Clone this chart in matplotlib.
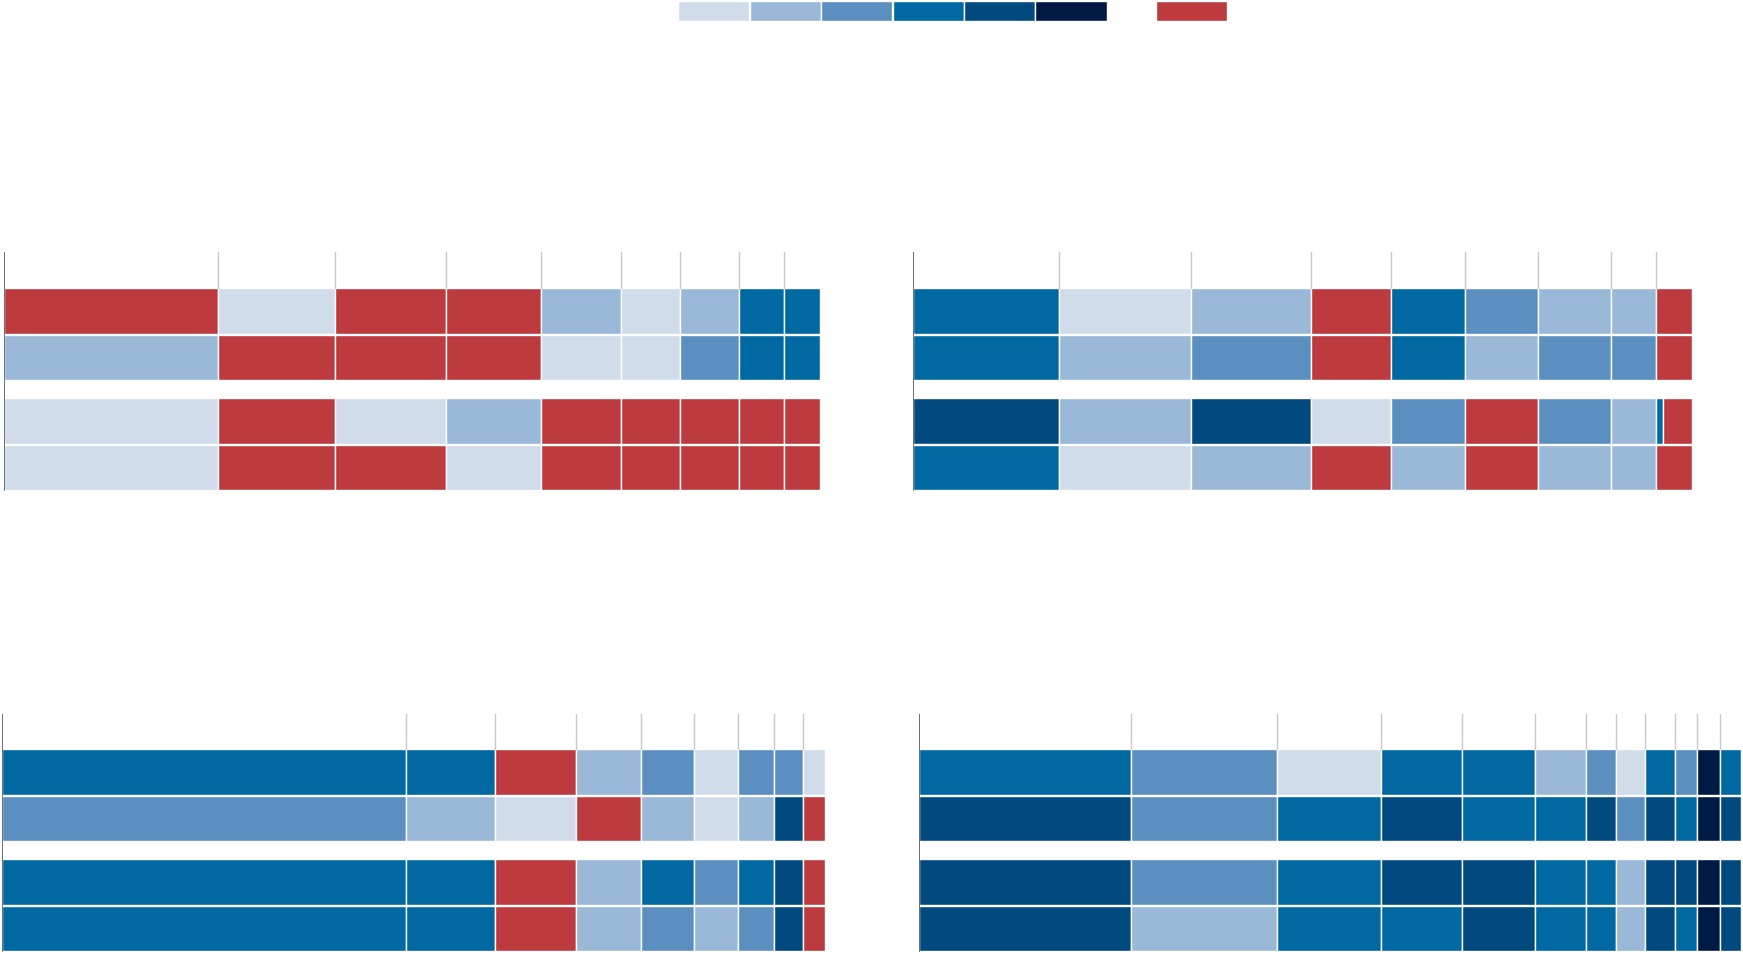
import matplotlib
matplotlib.use("Agg")
import matplotlib.pyplot as plt
import numpy as np

PAL = {0: '#bd3a3f', 1: '#d0dcea', 2: '#9ab8d7', 3: '#5a8fbf', 4: '#0069a1', 5: '#004a80', 6: '#001a44'}

# Panel data: column widths and color codes per row (0 = red, 1..6 = blue shades)
p1_widths = [192, 105, 100, 86, 72, 53, 53, 40, 33]
p1_rows = [[0,1,0,0,2,1,2,4,4],[2,0,0,0,1,1,3,4,4],[1,0,1,2,0,0,0,0,0],[1,0,0,1,0,0,0,0,0]]
p2_widths = [132, 118, 108, 72, 67, 66, 65, 41, 32]
p2_rows = [[4,1,2,0,4,3,2,2,0],[4,2,3,0,4,2,3,3,0],[5,2,5,1,3,0,3,2,(4,0)],[4,1,2,0,2,0,2,2,0]]
p3_widths = [363, 80, 73, 59, 47, 40, 32, 26, 20]
p3_rows = [[4,4,0,2,3,1,3,3,1],[3,2,1,0,2,1,2,5,0],[4,4,0,2,4,3,4,5,0],[4,4,0,2,3,2,3,5,0]]
p4_widths = [190, 132, 93, 73, 66, 46, 27, 26, 27, 20, 20, 19]
p4_rows = [[4,3,1,4,4,2,3,1,4,3,6,4],[5,3,4,5,4,4,5,3,5,4,6,5],[5,3,4,5,5,4,4,2,5,5,6,5],[5,2,4,4,5,4,4,2,5,4,6,5]]

# layout reference frame (coordinates measured on a 1568x880 view)
W, H = 1568, 880
fig = plt.figure(figsize=(17.43, 9.78), dpi=100)

def panel(x0, ytop, widths, rows):
    total = sum(widths)
    ybot = ytop + 215
    ax = fig.add_axes([x0/W, 1-ybot/H, total/W, 215/H])
    ax.set_xlim(0, total); ax.set_ylim(215, 0)
    ax.axis('off')
    tops = [32, 74, 131, 173]
    bounds = np.cumsum([0]+widths)
    for b in bounds[1:-1]:
        ax.plot([b, b], [0, 32], color='#c8c8c8', lw=1)
    ax.plot([0, 0], [0, 214], color='#555555', lw=1.2, zorder=5)
    for r, codes in enumerate(rows):
        for c, code in enumerate(codes):
            if isinstance(code, tuple):
                ax.barh(tops[r], 6, left=bounds[c], height=41, align='edge', color=PAL[code[0]], edgecolor='white', lw=1)
                ax.barh(tops[r], widths[c]-6, left=bounds[c]+6, height=41, align='edge', color=PAL[code[1]], edgecolor='white', lw=1)
            else:
                ax.barh(tops[r], widths[c], left=bounds[c], height=41, align='edge', color=PAL[code], edgecolor='white', lw=1)

panel(4, 228, p1_widths, p1_rows)
panel(821, 228, p2_widths, p2_rows)
panel(2, 643, p3_widths, p3_rows)
panel(827, 643, p4_widths, p4_rows)

# Legend
lax = fig.add_axes([0, 0, 1, 1]); lax.set_xlim(0, W); lax.set_ylim(H, 0); lax.axis('off')
legend_codes = [1, 2, 3, 4, 5, 6]
for i, code in enumerate(legend_codes):
    lax.barh(2, 64, left=610+i*64.3, height=18, align='edge', color=PAL[code], edgecolor='white', lw=1)
lax.barh(2, 64, left=1040, height=18, align='edge', color=PAL[0], edgecolor='white', lw=1)

fig.savefig('out.png', dpi=100)
